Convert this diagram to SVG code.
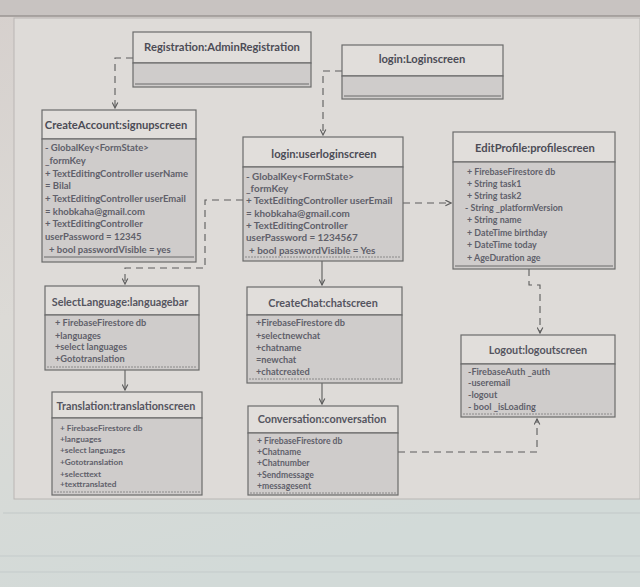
<svg xmlns="http://www.w3.org/2000/svg" width="640" height="587" viewBox="0 0 640 587">
<defs>
<linearGradient id="bg" x1="0" y1="0" x2="0.3" y2="1">
<stop offset="0" stop-color="#d6d0cd"/>
<stop offset="0.5" stop-color="#dcdad6"/>
<stop offset="1" stop-color="#d2dad8"/>
</linearGradient>
<marker id="arr" viewBox="0 0 10 10" refX="9" refY="5" markerWidth="7" markerHeight="7" orient="auto" markerUnits="userSpaceOnUse">
<path d="M1,1 L9,5 L1,9" fill="none" stroke="#5a5a5a" stroke-width="1.6"/>
</marker>
<style>
.hd{fill:#e1dedb;stroke:#6b6b6b;stroke-width:1.2}
.cp{fill:#cfcccb;stroke:#6b6b6b;stroke-width:1.2}
.ln{stroke:#6b6b6b;stroke-width:1}
.dl{stroke:#7a7a7a;stroke-width:0.8;stroke-dasharray:2 1}
.t{font-family:Lato,"Open Sans",sans-serif;font-weight:bold;font-size:10.8px;fill:#555560;text-anchor:middle}
.T{font-size:11.2px;fill:#4c4c56}
.a{font-family:Lato,"Open Sans",sans-serif;font-weight:bold;font-size:8.6px;fill:#60606a}
.c{fill:none;stroke:#5c5c5c;stroke-width:1.1}
.d{stroke-dasharray:7 5}
</style>
</defs>
<rect width="640" height="587" fill="url(#bg)"/>
<rect x="0" y="0" width="640" height="16" fill="#c8c3c1"/>
<line x1="0" y1="16" x2="640" y2="16" stroke="#9a9592" stroke-width="1.5"/>
<rect x="14" y="18" width="626" height="481" fill="#dedbd8" stroke="#b9b6b4" stroke-width="1"/>
<line x1="3" y1="513" x2="640" y2="513" stroke="#c2c8c8" stroke-width="1.2"/>
<line x1="0" y1="556" x2="640" y2="556" stroke="#c4cbcb" stroke-width="1"/>
<line x1="0" y1="572" x2="640" y2="572" stroke="#c4cbcb" stroke-width="1"/>

<g id="connectors">
<path class="c d" d="M133,58 H115 V108" marker-end="url(#arr)"/>
<path class="c d" d="M342,71 H323 V135" marker-end="url(#arr)"/>
<path class="c d" d="M243,200 H205 V268 H125 V284" marker-end="url(#arr)"/>
<path class="c d" d="M403,203 H451" marker-end="url(#arr)"/>
<path class="c" d="M322,261 V285" marker-end="url(#arr)"/>
<path class="c d" d="M529,269 V285 H540 V333" marker-end="url(#arr)"/>
<path class="c" d="M125,370 V390" marker-end="url(#arr)"/>
<path class="c" d="M322,383 V404" marker-end="url(#arr)"/>
<path class="c d" d="M398,452 H537 V419" marker-end="url(#arr)"/>
</g>

<g id="registration">
<rect class="hd" x="133" y="32" width="178" height="31"/>
<rect class="cp" x="133" y="63" width="178" height="24"/>
<line class="ln" x1="135" y1="84" x2="309" y2="84"/>
<text class="t T" x="222" y="51">Registration:AdminRegistration</text>
</g>

<g id="loginscreen">
<rect class="hd" x="342" y="45" width="161" height="31"/>
<rect class="cp" x="342" y="76" width="161" height="23"/>
<line class="ln" x1="344" y1="96" x2="501" y2="96"/>
<text class="t T" x="422" y="63">login:Loginscreen</text>
</g>

<g id="createaccount" font-size="9.5">
<rect class="hd" x="42" y="110" width="154" height="29"/>
<rect class="cp" x="42" y="139" width="154" height="123"/>
<line class="ln" x1="44" y1="257" x2="194" y2="257"/>
<text class="t T" x="116" y="129">CreateAccount:signupscreen</text>
<text class="a" style="font-size:9.5px" x="45" y="151">- GlobalKey&lt;FormState&gt;</text>
<text class="a" style="font-size:9.5px" x="45" y="164">_formKey</text>
<text class="a" style="font-size:9.5px" x="45" y="177">+ TextEditingController userName</text>
<text class="a" style="font-size:9.5px" x="45" y="189">= Bilal</text>
<text class="a" style="font-size:9.5px" x="45" y="202">+ TextEditingController userEmail</text>
<text class="a" style="font-size:9.5px" x="45" y="215">= khobkaha@gmail.com</text>
<text class="a" style="font-size:9.5px" x="45" y="227">+ TextEditingController</text>
<text class="a" style="font-size:9.5px" x="45" y="240">userPassword = 12345</text>
<text class="a" style="font-size:9.5px" x="49" y="253">+ bool passwordVisible = yes</text>
</g>

<g id="userloginscreen">
<rect class="hd" x="243" y="137" width="160" height="30"/>
<rect class="cp" x="243" y="167" width="160" height="94"/>
<line class="dl" x1="245" y1="257" x2="401" y2="257"/>
<text class="t T" x="324" y="158">login:userloginscreen</text>
<text class="a" style="font-size:9.9px" x="246" y="180">- GlobalKey&lt;FormState&gt;</text>
<text class="a" style="font-size:9.9px" x="246" y="192">_formKey</text>
<text class="a" style="font-size:9.9px" x="246" y="204">+ TextEditingController userEmail</text>
<text class="a" style="font-size:9.9px" x="246" y="217">= khobkaha@gmail.com</text>
<text class="a" style="font-size:9.9px" x="246" y="229">+ TextEditingController</text>
<text class="a" style="font-size:9.9px" x="246" y="241">userPassword = 1234567</text>
<text class="a" style="font-size:9.9px" x="249" y="254">+ bool passwordVisible = Yes</text>
</g>

<g id="editprofile">
<rect class="hd" x="453" y="132" width="162" height="30"/>
<rect class="cp" x="453" y="162" width="162" height="107"/>
<line class="ln" x1="455" y1="266" x2="613" y2="266"/>
<text class="t T" x="535" y="152">EditProfile:profilescreen</text>
<text class="a" style="font-size:8.9px" x="467" y="175">+ FirebaseFirestore db</text>
<text class="a" style="font-size:8.9px" x="467" y="187">+ String task1</text>
<text class="a" style="font-size:8.9px" x="467" y="199">+ String task2</text>
<text class="a" style="font-size:8.9px" x="465" y="211">- String _platformVersion</text>
<text class="a" style="font-size:8.9px" x="467" y="223">+ String name</text>
<text class="a" style="font-size:8.9px" x="467" y="236">+ DateTime birthday</text>
<text class="a" style="font-size:8.9px" x="467" y="248">+ DateTime today</text>
<text class="a" style="font-size:8.9px" x="467" y="261">+ AgeDuration age</text>
</g>

<g id="selectlanguage">
<rect class="hd" x="45" y="286" width="154" height="29"/>
<rect class="cp" x="45" y="315" width="154" height="55"/>
<line class="dl" x1="47" y1="367" x2="197" y2="367"/>
<text class="t" x="120" y="306">SelectLanguage:languagebar</text>
<text class="a" style="font-size:9.2px" x="55" y="326">+ FirebaseFirestore db</text>
<text class="a" style="font-size:9.2px" x="55" y="339">+languages</text>
<text class="a" style="font-size:9.2px" x="55" y="350">+select languages</text>
<text class="a" style="font-size:9.2px" x="55" y="362">+Gototranslation</text>
</g>

<g id="createchat">
<rect class="hd" x="247" y="287" width="155" height="28"/>
<rect class="cp" x="247" y="315" width="155" height="68"/>
<line class="dl" x1="249" y1="379" x2="400" y2="379"/>
<text class="t" x="323" y="307">CreateChat:chatscreen</text>
<text class="a" style="font-size:9.2px" x="256" y="326">+FirebaseFirestore db</text>
<text class="a" style="font-size:9.2px" x="256" y="339">+selectnewchat</text>
<text class="a" style="font-size:9.2px" x="256" y="351">+chatname</text>
<text class="a" style="font-size:9.2px" x="256" y="363">=newchat</text>
<text class="a" style="font-size:9.2px" x="256" y="375">+chatcreated</text>
</g>

<g id="logout">
<rect class="hd" x="461" y="335" width="154" height="29"/>
<rect class="cp" x="461" y="364" width="154" height="53"/>
<line class="dl" x1="463" y1="414" x2="613" y2="414"/>
<text class="t" x="538" y="354">Logout:logoutscreen</text>
<text class="a" style="font-size:9.1px" x="468" y="375">-FirebaseAuth _auth</text>
<text class="a" style="font-size:9.1px" x="468" y="386">-useremail</text>
<text class="a" style="font-size:9.1px" x="468" y="398">-logout</text>
<text class="a" style="font-size:9.1px" x="468" y="410">- bool _isLoading</text>
</g>

<g id="translation">
<rect class="hd" x="52" y="392" width="150" height="26"/>
<rect class="cp" x="52" y="418" width="150" height="77"/>
<line class="dl" x1="54" y1="492" x2="200" y2="492"/>
<text class="t" x="126" y="410">Translation:translationscreen</text>
<text class="a" style="font-size:8.3px" x="60" y="431">+ FirebaseFirestore db</text>
<text class="a" style="font-size:8.3px" x="60" y="442">+languages</text>
<text class="a" style="font-size:8.3px" x="60" y="453">+select languages</text>
<text class="a" style="font-size:8.3px" x="60" y="465">+Gototranslation</text>
<text class="a" style="font-size:8.3px" x="60" y="477">+selecttext</text>
<text class="a" style="font-size:8.3px" x="60" y="487">+texttranslated</text>
</g>

<g id="conversation">
<rect class="hd" x="248" y="406" width="150" height="27"/>
<rect class="cp" x="248" y="433" width="150" height="62"/>
<line class="dl" x1="250" y1="493" x2="396" y2="493"/>
<text class="t" x="322" y="423">Conversation:conversation</text>
<text class="a" style="font-size:8.6px" x="257" y="444">+ FirebaseFirestore db</text>
<text class="a" style="font-size:8.6px" x="257" y="455">+Chatname</text>
<text class="a" style="font-size:8.6px" x="257" y="466">+Chatnumber</text>
<text class="a" style="font-size:8.6px" x="257" y="478">+Sendmessage</text>
<text class="a" style="font-size:8.6px" x="257" y="489">+messagesent</text>
</g>
</svg>
